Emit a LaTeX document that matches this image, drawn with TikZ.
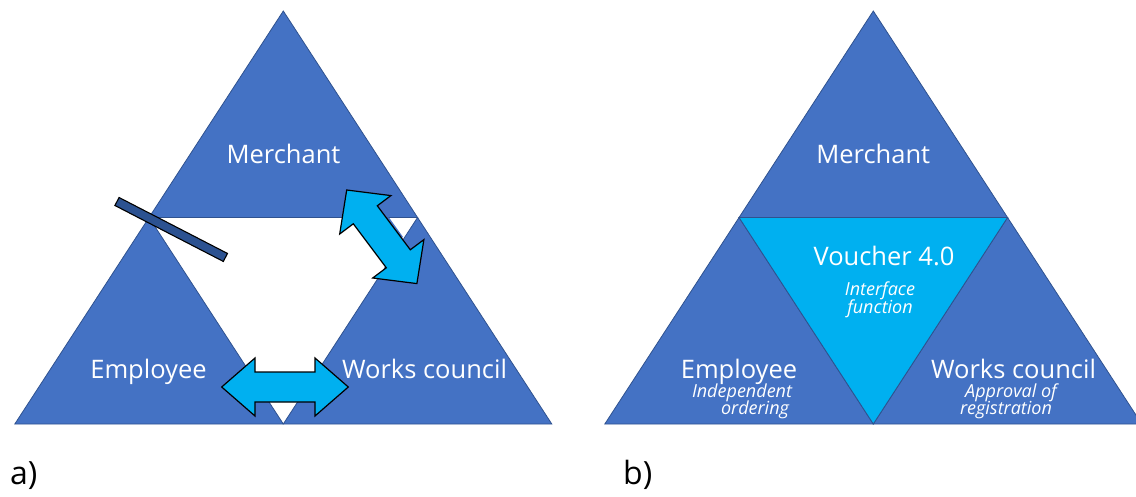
\documentclass[tikz,border=0pt]{standalone}
\usepackage{fontspec}
\setmainfont{Open Sans}
\usetikzlibrary{calc}
\definecolor{triblue}{HTML}{4472C4}
\definecolor{triedge}{HTML}{2F528F}
\definecolor{hubcyan}{HTML}{00B0F0}
\definecolor{bardark}{HTML}{2C5291}
\tikzset{
  tri/.style={fill=triblue, draw=triedge, line width=0.8pt, line join=miter},
  hub/.style={fill=hubcyan, draw=triedge, line width=0.8pt, line join=miter},
  arrowshape/.style={fill=hubcyan, draw=black, line width=1.2pt, line join=miter},
  barshape/.style={fill=bardark, draw=black, line width=1.1pt},
  title/.style={text=white, inner sep=0pt, anchor=base, font=\fontsize{25.5}{30}\selectfont},
  note/.style={text=white, inner sep=0pt, anchor=base, font=\fontsize{18}{21}\selectfont\itshape},
  panel/.style={text=black, inner sep=0pt, anchor=base west, font=\fontsize{32}{36}\selectfont},
}
% double-headed block arrow along the x axis:
% #1 length, #2 head length, #3 half head width, #4 half shaft width
\newcommand{\blockarrow}[4]{%
  (0,0) -- (#2,#3) -- (#2,#4) -- ({#1-#2},#4) -- ({#1-#2},#3) -- (#1,0)
  -- ({#1-#2},-#3) -- ({#1-#2},-#4) -- (#2,-#4) -- (#2,-#3) -- cycle}
\begin{document}
\begin{tikzpicture}[x=1pt,y=-1pt]
\useasboundingbox (0,0) rectangle (1136,497);

% ---------- panel a ----------
\coordinate (aA) at (283.3,11);
\coordinate (aB) at (14.8,424);
\coordinate (aC) at (551.8,424);
\coordinate (aAB) at ($(aA)!0.5!(aB)$);
\coordinate (aAC) at ($(aA)!0.5!(aC)$);
\coordinate (aBC) at ($(aB)!0.5!(aC)$);

\path[tri] (aA) -- (aAB) -- (aAC) -- cycle;
\path[tri] (aAB) -- (aB) -- (aBC) -- cycle;
\path[tri] (aAC) -- (aBC) -- (aC) -- cycle;
% blue wedge beside the small white notch under the merchant
\fill[triblue] (370,217.5) -- (389,217.5) -- (403,237) -- (385,250) -- cycle;

% broken link between merchant and employee
\begin{scope}[shift={(117,201.5)}, rotate=-27.3]
  \path[barshape] (0,-4.5) rectangle (122,4.5);
\end{scope}

% exchange arrows
\begin{scope}[shift={(346.7,190)}, rotate=-53.13]
  \path[arrowshape] \blockarrow{117}{31}{32}{15};
\end{scope}
\begin{scope}[shift={(221.7,387)}]
  \path[arrowshape] \blockarrow{126.6}{33.3}{29}{15};
\end{scope}

\node[title] (aMerchant) at (283.5,164) {Merchant};
\node[title] (aEmployee) at (148.5,378) {Employee};
\node[title] (aWorks) at (424.5,378) {Works council};
\node[panel] (aLabel) at (10,484) {a)};

% ---------- panel b ----------
\coordinate (bA) at (873.3,11);
\coordinate (bB) at (604.8,424);
\coordinate (bC) at (1141.8,424);
\coordinate (bAB) at ($(bA)!0.5!(bB)$);
\coordinate (bAC) at ($(bA)!0.5!(bC)$);
\coordinate (bBC) at ($(bB)!0.5!(bC)$);

\path[tri] (bA) -- (bAB) -- (bAC) -- cycle;
\path[tri] (bAB) -- (bB) -- (bBC) -- cycle;
\path[tri] (bAC) -- (bBC) -- (bC) -- cycle;
\path[hub] (bAB) -- (bAC) -- (bBC) -- cycle;

\node[title] (bMerchant) at (873.3,164) {Merchant};
\node[title] (bVoucher) at (884,266) {Voucher 4.0};
\node[note] (bIface1) at (880,296) {Interface};
\node[note] (bIface2) at (880,313) {function};
\node[title] (bEmployee) at (739,378) {Employee};
\node[note] (bEmp1) at (742,397) {Independent};
\node[note] (bEmp2) at (755,414) {ordering};
\node[title] (bWorks) at (1013.5,378) {Works council};
\node[note] (bWc1) at (1011,397) {Approval of};
\node[note] (bWc2) at (1006,414) {registration};
\node[panel] (bLabel) at (623,484) {b)};
\end{tikzpicture}
\end{document}
